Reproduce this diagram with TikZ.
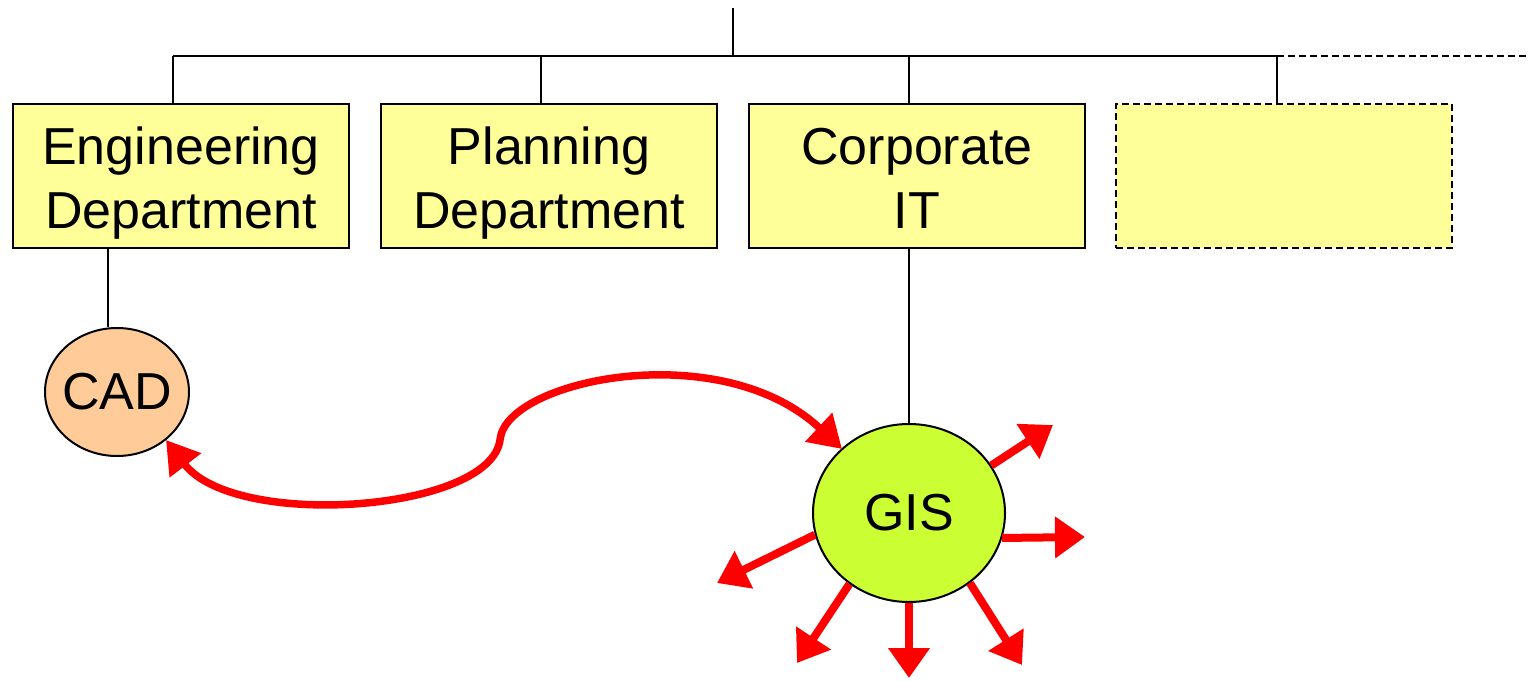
\documentclass[tikz,border=0pt]{standalone}
\usepackage{fontspec}
\setmainfont{Liberation Sans}
\usetikzlibrary{arrows.meta,shapes.geometric}
\definecolor{boxyellow}{HTML}{FFFF99}
\definecolor{cadorange}{HTML}{FFCC99}
\definecolor{gisgreen}{HTML}{CCFF33}
\definecolor{linkred}{HTML}{FF0000}
% struts that fix the first baseline and the last depth of a box label
\newcommand{\hiStrut}{\rule{0pt}{60pt}}
\newcommand{\loStrut}{\rule[-20pt]{0pt}{20pt}}
\tikzset{
  unitbox/.style={draw=black, line width=2pt, fill=boxyellow, minimum width=336pt,
    minimum height=144pt, inner sep=0pt, align=center,
    font=\fontsize{52}{64}\selectfont},
  spare/.style={unitbox, dash pattern=on 7pt off 4pt},
  tree/.style={draw=black, line width=2pt},
  system/.style={draw=black, line width=2pt, ellipse, inner sep=0pt,
    font=\fontsize{52}{64}\selectfont},
  flow/.style={draw=linkred, line width=8pt,
    -{Triangle[length=30pt,width=40pt]}},
  link/.style={draw=linkred, line width=7.5pt,
    {Triangle[length=32pt,width=38pt]}-{Triangle[length=32pt,width=38pt]}},
}
\begin{document}
\begin{tikzpicture}[x=1pt,y=-1pt]
  \useasboundingbox (0,0) rectangle (1528,680);

  % departments
  \node[unitbox] (eng)  at (181,176) {\hiStrut Engineering\\Department\loStrut};
  \node[unitbox] (plan) at (549,176) {\hiStrut Planning\\Department\loStrut};
  \node[unitbox] (it)   at (917,176) {\hiStrut Corporate\\IT\loStrut};
  \node[spare]   (more) at (1284,176) {};

  % systems
  \node[system, fill=cadorange, inner xsep=-6pt, minimum width=144pt, minimum height=128pt] (cad) at (117,392) {CAD};
  \node[system, fill=gisgreen, minimum width=192pt, minimum height=178pt] (gis) at (909,513) {GIS};

  % organisation tree
  \coordinate (top) at (733,8);
  \coordinate (j1) at (173,56);
  \coordinate (j2) at (541,56);
  \coordinate (j3) at (909,56);
  \coordinate (j4) at (1277,56);
  \coordinate (jend) at (1528,56);
  \draw[tree] (top) -- (top |- j1);
  \draw[tree] (j1) -- (j4);
  \draw[tree, dash pattern=on 7pt off 4pt] (j4) -- (jend);
  \draw[tree] (j1) -- (j1 |- eng.north);
  \draw[tree] (j2) -- (j2 |- plan.north);
  \draw[tree] (j3) -- (j3 |- it.north);
  \draw[tree] (j4) -- (j4 |- more.north);

  % systems hang off their departments
  \coordinate (c1) at (108,0);
  \draw[tree] (eng.south -| c1) -- (cad.north -| c1);
  \draw[tree] (it.south -| gis.north) -- (gis.north);

  % exchange between CAD and GIS
  \coordinate (mid) at (500,440);
  \coordinate (cadend) at (166,440);
  \coordinate (gisend) at (842,449);
  \draw[link] (cadend) .. controls (235,530) and (490,512) .. (mid)
              .. controls (505,380) and (720,335) .. (gisend);

  % GIS data flowing out
  \coordinate (o1) at (1053,425);
  \coordinate (o2) at (1085,537);
  \coordinate (o3) at (717,583);
  \coordinate (o4) at (797,663);
  \coordinate (o5) at (909,678);
  \coordinate (o6) at (1022,665);
  \draw[flow] (gis.30)  -- (o1);
  \draw[flow] (gis.-15) -- (o2);
  \draw[flow] (gis.193) -- (o3);
  \draw[flow] (gis.230) -- (o4);
  \draw[flow] (gis.south) -- (o5);
  \draw[flow] (gis.311) -- (o6);
\end{tikzpicture}
\end{document}
